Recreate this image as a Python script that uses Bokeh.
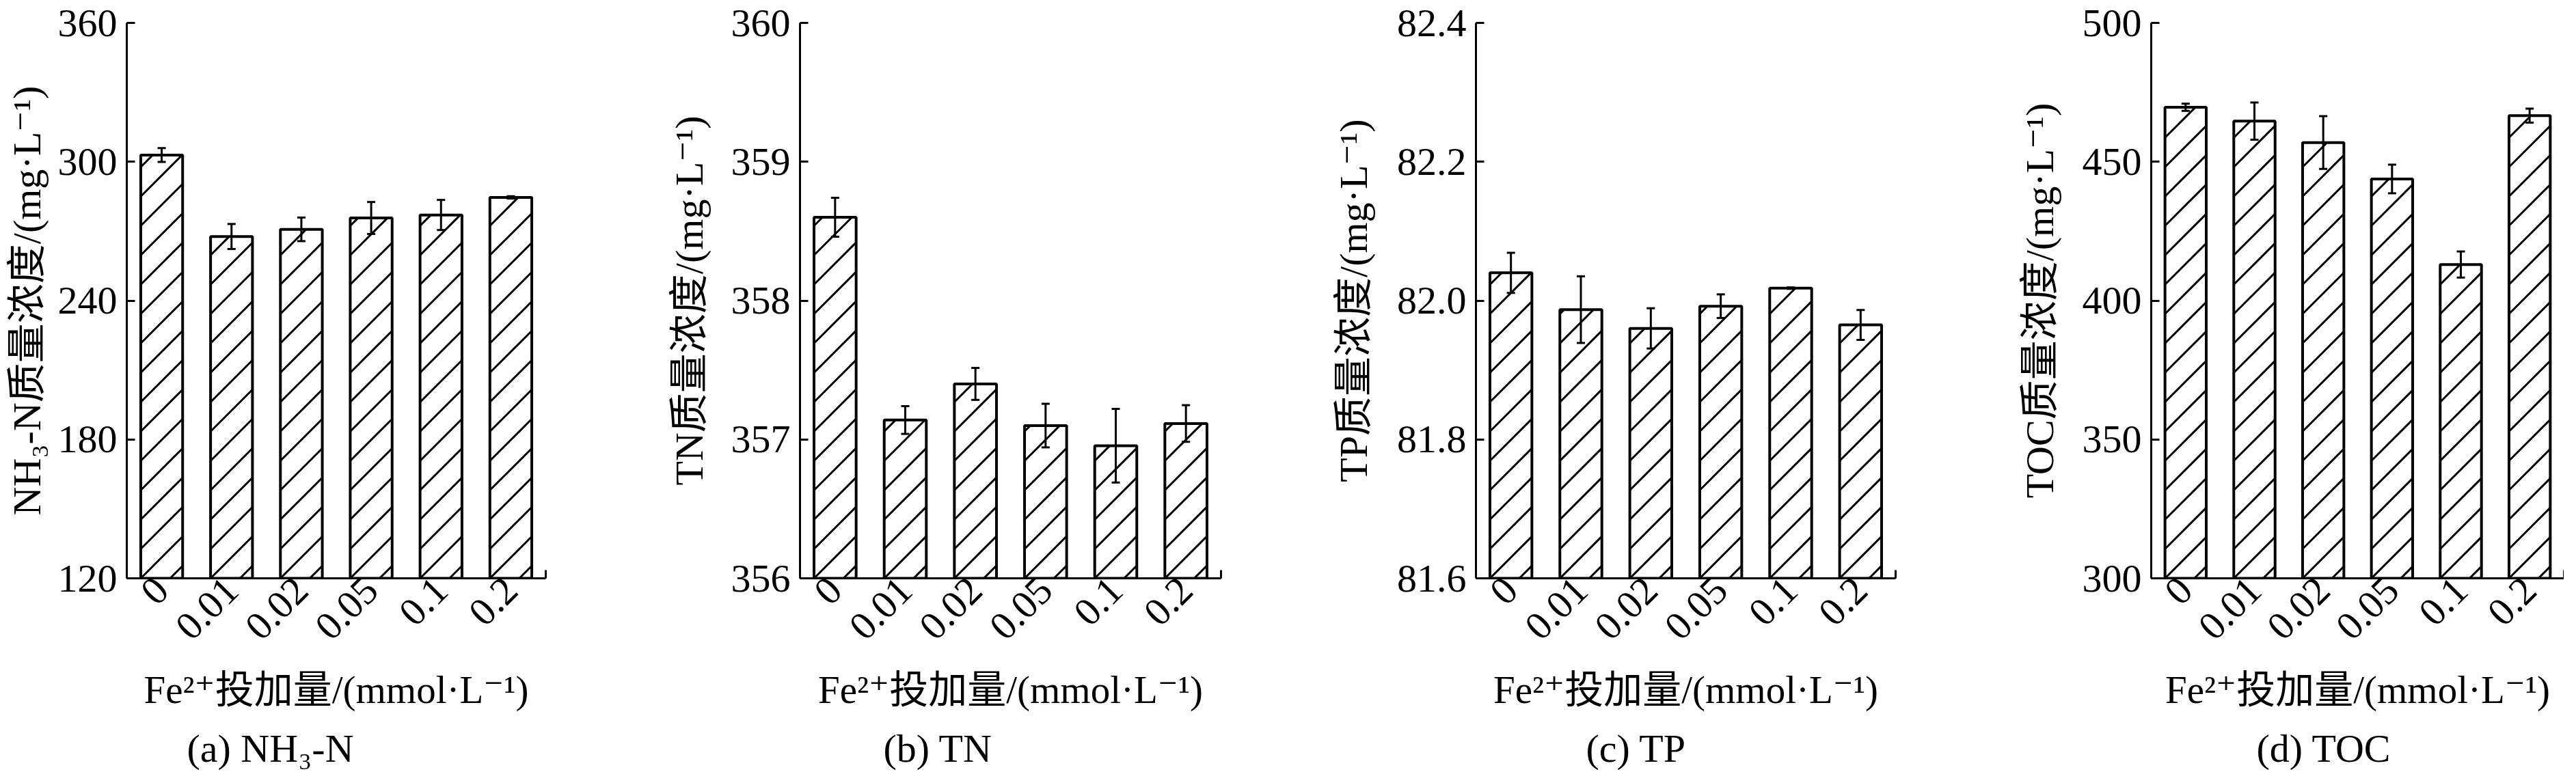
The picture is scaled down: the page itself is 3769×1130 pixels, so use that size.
import math
from bokeh.plotting import figure
from bokeh.layouts import row
from bokeh.models import (Range1d, FixedTicker, Whisker, TeeHead, ColumnDataSource,
                          Title, NumeralTickFormatter)
from bokeh.embed import file_html
from bokeh.resources import INLINE

# ---------------- data ----------------
doses = ["0", "0.01", "0.02", "0.05", "0.1", "0.2"]

nh3n_mean = [302.9, 267.7, 270.8, 275.7, 277.0, 284.6]
nh3n_err = [3.0, 5.4, 5.1, 6.9, 6.5, 0.5]
nh3n_ticks = [120, 180, 240, 300, 360]

tn_mean = [358.60, 357.14, 357.40, 357.10, 356.955, 357.115]
tn_err = [0.14, 0.10, 0.115, 0.157, 0.265, 0.132]
tn_ticks = [356, 357, 358, 359, 360]

tp_mean = [82.040, 81.987, 81.960, 81.992, 82.018, 81.965]
tp_err = [0.029, 0.048, 0.029, 0.017, 0.001, 0.0215]
tp_ticks = [81.6, 81.8, 82.0, 82.2, 82.4]

toc_mean = [469.6, 464.65, 456.9, 443.8, 413.0, 466.6]
toc_err = [1.3, 6.7, 9.5, 5.15, 4.7, 2.5]
toc_ticks = [300, 350, 400, 450, 500]

x_title = "Fe²⁺投加量/(mmol·L⁻¹)"
y_titles = ["NH₃-N质量浓度/(mg·L⁻¹)", "TN质量浓度/(mg·L⁻¹)",
            "TP质量浓度/(mg·L⁻¹)", "TOC质量浓度/(mg·L⁻¹)"]
captions = ["(a) NH₃-N", "(b) TN", "(c) TP", "(d) TOC"]

# ---------------- style / layout ----------------
FONT = "'Liberation Serif', 'DejaVu Serif', 'Noto Sans CJK SC'"
FRAME_H = 813
BORDER_TOP = 33
BAR_W = 0.6
HATCH_STEP = 43      # vertical distance between hatch lines, px
HATCH_W = 3

layout_specs = [
    # frame width, left border, right border, y-title standoff, caption offset, label format
    (613, 185, 173, 10, 88, "0"),
    (616, 199, 157, 26, 122, "0"),
    (614, 216, 174, 28, 161, "0.0"),
    (604, 200, 0, 27, 154, "0"),
]

series = [
    (nh3n_mean, nh3n_err, nh3n_ticks),
    (tn_mean, tn_err, tn_ticks),
    (tp_mean, tp_err, tp_ticks),
    (toc_mean, toc_err, toc_ticks),
]


def hatch_segments(xs, tops, ymin, ymax, frame_w, frame_h, n):
    """45-degree '/' hatch lines inside each bar, in data units."""
    kx = frame_w / n                 # px per x unit
    ky = frame_h / (ymax - ymin)     # px per y unit
    w = BAR_W * kx
    x0s, y0s, x1s, y1s = [], [], [], []
    for xc, top in zip(xs, tops):
        left = xc - BAR_W / 2
        H = (top - ymin) * ky
        c = -math.floor(w / HATCH_STEP) * HATCH_STEP
        while c < H:
            u0 = max(0.0, -c)
            u1 = min(w, H - c)
            if u1 - u0 > 1:
                x0s.append(left + u0 / kx)
                y0s.append(ymin + (u0 + c) / ky)
                x1s.append(left + u1 / kx)
                y1s.append(ymin + (u1 + c) / ky)
            c += HATCH_STEP
    return dict(x0=x0s, y0=y0s, x1=x1s, y1=y1s)


def make_panel(mean, err, ticks, ytitle, caption, spec):
    frame_w, bl, br, ystand, cap_off, fmt = spec
    n = len(doses)
    xs = [i + 0.5 for i in range(n)]
    ymin, ymax = ticks[0], ticks[-1]
    src = ColumnDataSource(dict(
        x=xs, top=mean,
        upper=[m + e for m, e in zip(mean, err)],
        lower=[m - e for m, e in zip(mean, err)],
    ))
    p = figure(frame_width=frame_w, frame_height=FRAME_H,
               output_backend="svg", toolbar_location=None,
               x_range=Range1d(0, n), y_range=Range1d(ymin, ymax),
               min_border_left=bl, min_border_right=br,
               min_border_top=BORDER_TOP, min_border_bottom=0)
    p.background_fill_color = "white"
    p.border_fill_color = "white"
    p.outline_line_color = None
    p.grid.visible = False

    # bar fill
    p.vbar(x="x", top="top", bottom=ymin, width=BAR_W, source=src,
           fill_color="white", line_color=None)
    # hatch
    hsrc = ColumnDataSource(hatch_segments(xs, mean, ymin, ymax, frame_w, FRAME_H, n))
    p.segment(x0="x0", y0="y0", x1="x1", y1="y1", source=hsrc,
              line_color="black", line_width=HATCH_W)
    # bar outline
    p.vbar(x="x", top="top", bottom=ymin, width=BAR_W, source=src,
           fill_color=None, line_color="black", line_width=4)

    wh = Whisker(base="x", upper="upper", lower="lower", source=src,
                 line_color="black", line_width=3, level="overlay",
                 upper_head=TeeHead(size=12, line_width=3, line_color="black"),
                 lower_head=TeeHead(size=12, line_width=3, line_color="black"))
    p.add_layout(wh)

    # y axis
    ya = p.yaxis[0]
    ya.ticker = FixedTicker(ticks=ticks)
    ya.formatter = NumeralTickFormatter(format=fmt)
    ya.axis_line_width = 3
    ya.major_tick_line_width = 3
    ya.major_tick_in = 12
    ya.major_tick_out = 0
    ya.minor_tick_line_color = None
    ya.major_label_text_font = FONT
    ya.major_label_text_font_size = "58px"
    ya.major_label_text_color = "black"
    ya.major_label_standoff = 14
    ya.axis_label = ytitle
    ya.axis_label_text_font = FONT
    ya.axis_label_text_font_size = "58px"
    ya.axis_label_text_font_style = "normal"
    ya.axis_label_text_color = "black"
    ya.axis_label_standoff = ystand

    # x axis
    xa = p.xaxis[0]
    xa.ticker = FixedTicker(ticks=xs, minor_ticks=[n])
    xa.major_label_overrides = {x: d for x, d in zip(xs, doses)}
    xa.axis_line_width = 3
    xa.major_tick_in = 0
    xa.major_tick_out = 0
    xa.minor_tick_in = 12
    xa.minor_tick_out = 0
    xa.minor_tick_line_width = 3
    xa.major_label_orientation = math.pi / 4
    xa.major_label_text_font = FONT
    xa.major_label_text_font_size = "58px"
    xa.major_label_text_color = "black"
    xa.major_label_standoff = 8
    xa.axis_label = x_title
    xa.axis_label_text_font = FONT
    xa.axis_label_text_font_size = "57px"
    xa.axis_label_text_font_style = "normal"
    xa.axis_label_text_color = "black"
    xa.axis_label_standoff = 22

    gap = Title(text=" ", text_font_size="12px", standoff=0)
    p.add_layout(gap, "below")
    t = Title(text=caption, align="left", offset=cap_off, text_font=FONT, standoff=0,
              text_font_size="58px", text_font_style="normal", text_color="black")
    p.add_layout(t, "below")
    return p


figs = []
for (mean, err, ticks), yt, cap, spec in zip(series, y_titles, captions, layout_specs):
    figs.append(make_panel(mean, err, ticks, yt, cap, spec))

layout = row(*figs)
open("out.html", "w").write(file_html(layout, INLINE))
